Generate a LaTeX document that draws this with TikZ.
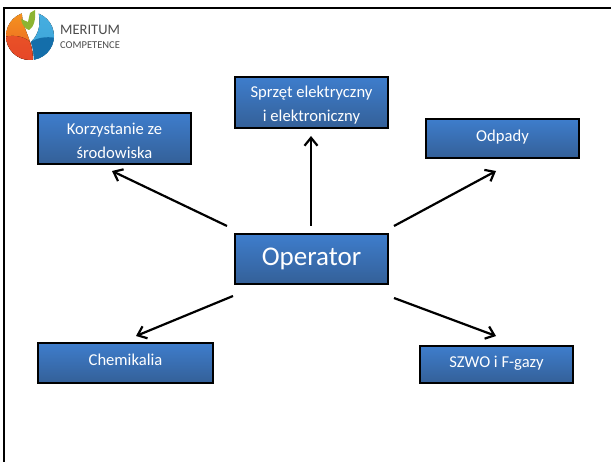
\documentclass[tikz,border=0pt]{standalone}
\usepackage{fontspec}
\setmainfont{Carlito}
\usepackage{tikz}
\usetikzlibrary{arrows.meta}
\definecolor{boxtop}{RGB}{62,125,204}
\definecolor{boxbottom}{RGB}{52,96,152}
\definecolor{logoorange}{RGB}{245,150,30}
\definecolor{logored}{RGB}{230,70,40}
\definecolor{logocyan}{RGB}{70,175,225}
\definecolor{logoblue}{RGB}{20,110,170}
\definecolor{logogreen}{RGB}{140,180,50}

\begin{document}
\begin{tikzpicture}[x=1pt,y=-1pt,
            every node/.style = {align=center},
            topicbox/.style = {shape=rectangle, draw=black, line width=2.2pt,
                                top color=boxtop, bottom color=boxbottom,
                                text=white, font=\fontsize{16.6}{24}\selectfont,
                                minimum width=153pt, inner sep=0pt},
            linkarrow/.style = {draw=black, line width=2.2pt, -{Straight Barb[length=8pt,width=13pt]}}]
            \useasboundingbox (0,0) rectangle (611,462);
            \fill[white] (0,0) rectangle (611,462);
            \draw[line width=1.8pt] (4,462) -- (4,8) -- (611,8);
            % logo
            \begin{scope}
                \clip (30,36) circle (24);
                \fill[top color=logoorange, bottom color=logored!70!logoorange] (0,10) -- (22,10) .. controls (21,22) and (27,32) .. (30,42) .. controls (32,48) and (33,54) .. (33,62) -- (0,62) -- cycle;
                \fill[top color=logored!85!logoorange, bottom color=logored] (0,38) .. controls (12,34) and (24,36) .. (30,42) .. controls (32,48) and (33,54) .. (33,62) -- (0,62) -- cycle;
                \fill[top color=logocyan, bottom color=logocyan!80!logoblue] (38,10) .. controls (41,22) and (40,33) .. (31,42) .. controls (33,48) and (34,54) .. (34,62) -- (60,62) -- (60,10) -- cycle;
                \fill[logoblue] (31,42) .. controls (36,38) and (46,36) .. (56,38) -- (56,62) -- (34,62) .. controls (34,54) and (33,48) .. (31,42) -- cycle;
            \end{scope}
            \fill[logogreen] (21,19) .. controls (22,25) and (25,29) .. (29,30) .. controls (34,27) and (36,19) .. (35,10) -- (30,13) -- (28,22) -- cycle;
            \node[text=black!70, font=\fontsize{14.5}{14}\selectfont, anchor=west, inner sep=0pt] (meritum) at (60,30) {MERITUM};
            \node[text=black!70, font=\fontsize{10.5}{10}\selectfont, anchor=west, inner sep=0pt] (competence) at (60,45) {COMPETENCE};
            % boxes
            \node[topicbox, minimum height=51pt] (srodowisko) at (114.5,138.5) {\rule{0pt}{17pt}Korzystanie ze\\środowiska};
            \node[topicbox, minimum height=51pt] (sprzet) at (311.5,102.5) {\rule{0pt}{17pt}Sprzęt elektryczny\\i elektroniczny};
            \node[topicbox, minimum height=39pt] (odpady) at (502.5,138.5) {\raisebox{6pt}{Odpady}};
            \node[topicbox, minimum height=50pt, font=\fontsize{27}{30}\selectfont] (operator) at (311.5,259) {Operator};
            \node[topicbox, minimum width=175pt, minimum height=40pt] (chemikalia) at (125.5,363) {\raisebox{7pt}{Chemikalia}};
            \node[topicbox, minimum height=37pt] (szwo) at (496.5,364.5) {\raisebox{5pt}{SZWO i F-gazy}};
            % arrow ends
            \coordinate (a1) at (227,226);
            \coordinate (a2) at (311,226);
            \coordinate (a3) at (394,226);
            \coordinate (a4) at (233,296);
            \coordinate (a5) at (394,298);
            \coordinate (b1) at (112,171);
            \coordinate (b2) at (311,136);
            \coordinate (b3) at (496,171);
            \coordinate (b4) at (136,336);
            \coordinate (b5) at (496,336);
            \foreach \from/\to in {a1/b1, a2/b2, a3/b3, a4/b4, a5/b5}
                \draw[linkarrow] (\from) -- (\to);
        \end{tikzpicture}
\end{document}
